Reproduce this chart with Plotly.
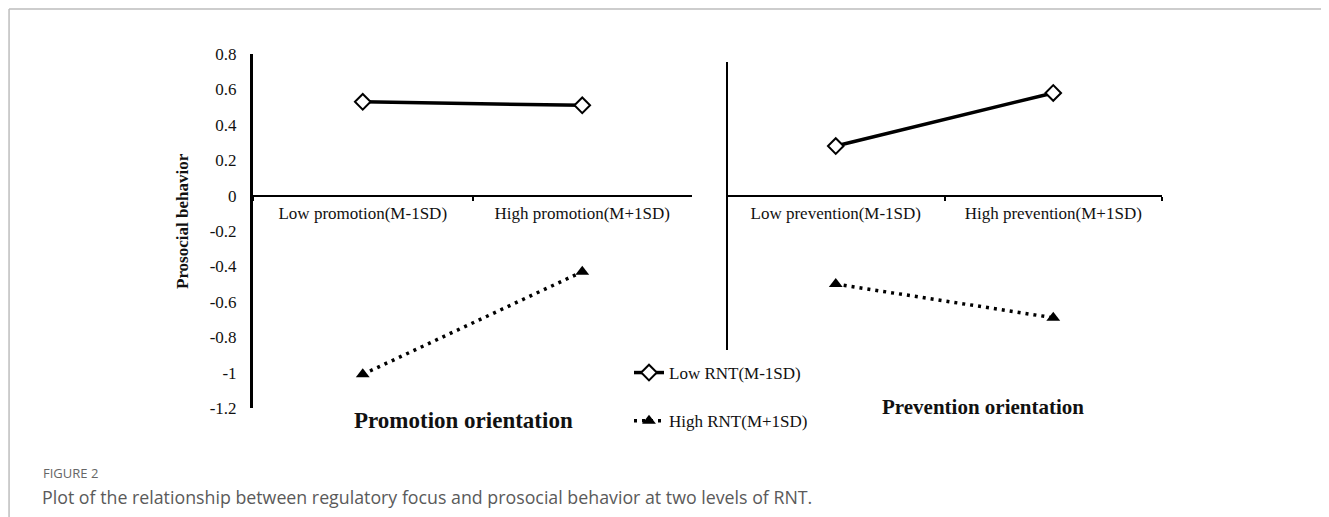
import plotly.graph_objects as go

# ---- data ----
promo_categories = ["Low promotion(M-1SD)", "High promotion(M+1SD)"]
prev_categories = ["Low prevention(M-1SD)", "High prevention(M+1SD)"]
low_rnt_promo = [0.53, 0.51]
high_rnt_promo = [-1.01, -0.43]
low_rnt_prev = [0.28, 0.58]
high_rnt_prev = [-0.50, -0.69]
series_names = ["Low RNT(M-1SD)", "High RNT(M+1SD)"]
y_tickvals = [0.8, 0.6, 0.4, 0.2, 0, -0.2, -0.4, -0.6, -0.8, -1, -1.2]
y_ticktext = ["0.8", "0.6", "0.4", "0.2", "0", "-0.2", "-0.4", "-0.6", "-0.8", "-1", "-1.2"]

# page body has an 8px margin; figure drawn inside it
OFF = 8
W, H = 1329 - OFF, 517 - OFF
def px(x):
    return (x - OFF) / W
def py(y):
    return 1 - (y - OFF) / H

SERIF = "Liberation Serif, Times New Roman, serif"

fig = go.Figure()

low_style = dict(mode="lines+markers", line=dict(color="black", width=3.5),
                 marker=dict(symbol="diamond", size=12, color="white",
                             line=dict(color="black", width=2)))
high_style = dict(mode="lines+markers", line=dict(color="black", width=3.5, dash="3px,5px"),
                  marker=dict(symbol="triangle-up", size=12, color="black"))

fig.add_trace(go.Scatter(x=promo_categories, y=low_rnt_promo, name=series_names[0],
                         xaxis="x", yaxis="y", legendgroup="a", **low_style))
fig.add_trace(go.Scatter(x=promo_categories, y=high_rnt_promo, name=series_names[1],
                         xaxis="x", yaxis="y", legendgroup="b", **high_style))
fig.add_trace(go.Scatter(x=prev_categories, y=low_rnt_prev, name=series_names[0],
                         xaxis="x2", yaxis="y2", legendgroup="a", showlegend=False, **low_style))
fig.add_trace(go.Scatter(x=prev_categories, y=high_rnt_prev, name=series_names[1],
                         xaxis="x2", yaxis="y2", legendgroup="b", showlegend=False, **high_style))

ydom = [py(408), py(54)]
zero_pos = py(195.6)

xcommon = dict(type="category", range=[-0.5, 1.5], showline=True, linecolor="black",
               linewidth=2, ticks="outside", ticklen=4, tickwidth=2, tickcolor="black",
               tickson="boundaries", showgrid=False, zeroline=False, anchor="free",
               position=zero_pos, automargin=False, ticklabelstandoff=2,
               tickfont=dict(family=SERIF, size=17, color="#111"))

fig.update_layout(
    template="none",
    width=W, height=H,
    margin=dict(l=0, r=0, t=0, b=0, pad=0, autoexpand=False),
    paper_bgcolor="white", plot_bgcolor="rgba(0,0,0,0)",
    xaxis=dict(domain=[px(253), px(692)], **xcommon),
    xaxis2=dict(domain=[px(727), px(1162)], **xcommon),
    yaxis=dict(domain=ydom, range=[-1.2, 0.8], tickvals=y_tickvals, ticktext=y_ticktext,
               showline=True, linecolor="black", linewidth=3, ticks="",
               showgrid=False, zeroline=False, anchor="x", ticklabelstandoff=10,
               automargin=False,
               tickfont=dict(family=SERIF, size=17, color="#111")),
    yaxis2=dict(domain=ydom, range=[-1.2, 0.8], showline=False, showticklabels=False,
                ticks="", showgrid=False, zeroline=False, anchor="x2", automargin=False),
    showlegend=True,
    legend=dict(x=px(629), y=py(355), xanchor="left", yanchor="top",
                traceorder="grouped", tracegroupgap=23,
                font=dict(family=SERIF, size=17, color="#111"),
                bgcolor="rgba(0,0,0,0)", borderwidth=0, itemwidth=30),
)

# right panel vertical axis line
fig.add_shape(type="line", xref="paper", yref="paper", x0=px(727), x1=px(727),
              y0=py(350), y1=py(62), line=dict(color="black", width=2))

# frame lines (top and left)
fig.add_shape(type="line", xref="paper", yref="paper", x0=0.0008, x1=1, y0=py(9), y1=py(9),
              line=dict(color="#bdbdbd", width=1.5))
fig.add_shape(type="line", xref="paper", yref="paper", x0=0.0008, x1=0.0008, y0=0, y1=py(9),
              line=dict(color="#bdbdbd", width=1.5))

def note(text, x, y, size, family=SERIF, color="#111", xanchor="center", angle=0):
    fig.add_annotation(text=text, x=px(x), y=py(y), xref="paper", yref="paper",
                       xanchor=xanchor, yanchor="middle", textangle=angle,
                       showarrow=False, font=dict(family=family, size=size, color=color))

# titles
note("<b>Prosocial behavior</b>", 182, 221, 17, angle=-90)
note("<b>Promotion orientation</b>", 463, 420, 23)
note("<b>Prevention orientation</b>", 983, 407, 21)

# caption
note("FIGURE 2", 41, 473, 13, family="Open Sans, sans-serif", color="#666666", xanchor="left")
note("Plot of the relationship between regulatory focus and prosocial behavior at two levels of RNT.",
     40, 497, 17.8, family="Open Sans, sans-serif", color="#5a5a5a", xanchor="left")

fig.write_html("out.html")
